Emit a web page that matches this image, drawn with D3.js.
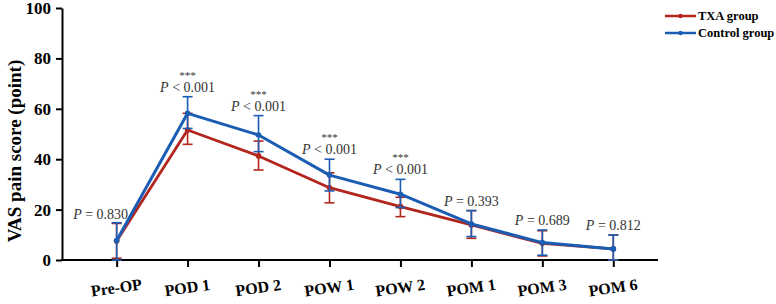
<!DOCTYPE html>
<html>
<head>
<meta charset="utf-8">
<script src="https://cdn.jsdelivr.net/npm/d3@7"></script>
<style>
  body { margin: 0; background: #fff; }
  svg { font-family: "Liberation Serif", "Times New Roman", serif; }
</style>
</head>
<body>
<div id="chart"></div>
<script>
// Data
const categories = ["Pre-OP", "POD 1", "POD 2", "POW 1", "POW 2", "POM 1", "POM 3", "POM 6"];
const txaMean  = [7.5, 51.6, 41.3, 28.7, 21.2, 13.9, 6.6, 4.4];
const txaLow   = [0.7, 45.9, 35.7, 22.7, 17.2, 8.6, 1.6, 0];
const txaHigh  = [14.5, 58.2, 47.2, 34.6, 24.9, 19.6, 11.6, 9.9];
const ctrlMean = [7.7, 58.2, 49.6, 33.7, 26.1, 14.3, 6.9, 4.4];
const ctrlLow  = [0, 52.2, 43.0, 27.4, 20.8, 9.3, 1.9, 0];
const ctrlHigh = [14.8, 64.8, 57.3, 40.0, 32.0, 19.6, 11.9, 9.9];
const pLabels  = ["P = 0.830", "P < 0.001", "P < 0.001", "P < 0.001", "P < 0.001", "P = 0.393", "P = 0.689", "P = 0.812"];
const stars    = ["", "***", "***", "***", "***", "", "", ""];
const yTicks   = [0, 20, 40, 60, 80, 100];

const width = 776, height = 304;
const red = "#b3261e", blue = "#1b5db3";

const svg = d3.select("#chart").append("svg")
  .attr("width", width)
  .attr("height", height);

const x = d3.scalePoint()
  .domain(categories)
  .range([62, 658])
  .padding(0.7)
  .align(0.55);

const y = d3.scaleLinear()
  .domain([0, 100])
  .range([260, 8]);

// y axis
const yAxis = svg.append("g")
  .attr("transform", "translate(62,0)")
  .call(d3.axisLeft(y).tickValues(yTicks).tickSize(6).tickSizeOuter(0).tickPadding(5));
yAxis.select(".domain").attr("stroke", "#000").attr("stroke-width", 2);
yAxis.selectAll(".tick line").attr("stroke", "#000").attr("stroke-width", 2);
yAxis.selectAll(".tick text")
  .attr("fill", "#000")
  .style("font-family", "Liberation Serif, serif")
  .style("font-size", "17px")
  .style("font-weight", "bold");

// x axis
const xAxis = svg.append("g")
  .attr("transform", "translate(0,260)")
  .call(d3.axisBottom(x).tickSize(7).tickSizeOuter(0));
xAxis.select(".domain").remove();
xAxis.append("line")
  .attr("x1", 61).attr("x2", 658)
  .attr("stroke", "#000").attr("stroke-width", 2);
xAxis.selectAll(".tick line").attr("stroke", "#000").attr("stroke-width", 2);
xAxis.selectAll(".tick text")
  .attr("fill", "#000")
  .attr("y", 0)
  .attr("dy", 0)
  .attr("transform", "translate(0,33) rotate(-8)")
  .style("font-family", "Liberation Serif, serif")
  .style("font-size", "16px")
  .style("font-weight", "bold");

// y axis title
svg.append("text")
  .attr("transform", "translate(21,151) rotate(-90)")
  .attr("text-anchor", "middle")
  .style("font-size", "19px")
  .style("font-weight", "bold")
  .text("VAS pain score (point)");

function drawSeries(mean, low, high, color, lineWidth) {
  const g = svg.append("g");
  // error bars
  categories.forEach(function (c, i) {
    const cx = x(c);
    g.append("line")
      .attr("x1", cx).attr("x2", cx)
      .attr("y1", y(low[i])).attr("y2", y(high[i]))
      .attr("stroke", color).attr("stroke-width", 1.6);
    [low[i], high[i]].forEach(function (v) {
      g.append("line")
        .attr("x1", cx - 5).attr("x2", cx + 5)
        .attr("y1", y(v)).attr("y2", y(v))
        .attr("stroke", color).attr("stroke-width", 1.6);
    });
  });
  const line = d3.line()
    .x(function (d, i) { return x(categories[i]); })
    .y(function (d) { return y(d); });
  g.append("path")
    .datum(mean)
    .attr("d", line)
    .attr("fill", "none")
    .attr("stroke", color)
    .attr("stroke-width", lineWidth)
    .attr("stroke-linejoin", "round");
  g.selectAll("circle")
    .data(mean)
    .enter().append("circle")
    .attr("cx", function (d, i) { return x(categories[i]); })
    .attr("cy", function (d) { return y(d); })
    .attr("r", 2.8)
    .attr("fill", color);
}

drawSeries(txaMean, txaLow, txaHigh, red, 2.8);
drawSeries(ctrlMean, ctrlLow, ctrlHigh, blue, 3);

// p-value annotations
categories.forEach(function (c, i) {
  const top = Math.max(txaHigh[i], ctrlHigh[i]);
  const cx = x(c) + (i === 0 ? -16 : 0);
  const base = y(top) - (i === 0 ? 4 : 5);
  const parts = pLabels[i].split(" ");
  const t = svg.append("text")
    .attr("x", cx)
    .attr("y", base)
    .attr("text-anchor", "middle")
    .attr("fill", "#333")
    .style("font-size", "14px");
  t.append("tspan").style("font-style", "italic").text(parts[0]);
  t.append("tspan").text(" " + parts.slice(1).join(" "));
  if (stars[i]) {
    svg.append("text")
      .attr("x", cx)
      .attr("y", base - 13)
      .attr("text-anchor", "middle")
      .attr("fill", "#333")
      .style("font-size", "11px")
      .text(stars[i]);
  }
});

// legend
const legendItems = [
  { name: "TXA group", color: red },
  { name: "Control group", color: blue }
];
const legend = svg.append("g").attr("transform", "translate(665,16)");
legendItems.forEach(function (d, i) {
  const row = legend.append("g").attr("transform", "translate(0," + (i * 17) + ")");
  row.append("line")
    .attr("x1", 0).attr("x2", 31)
    .attr("stroke", d.color).attr("stroke-width", 2.5);
  row.append("circle")
    .attr("cx", 15.5).attr("r", 2.2).attr("fill", d.color);
  row.append("text")
    .attr("x", 33)
    .attr("dy", "0.33em")
    .style("font-size", "12.5px")
    .style("font-weight", "bold")
    .text(d.name);
});
</script>
</body>
</html>
